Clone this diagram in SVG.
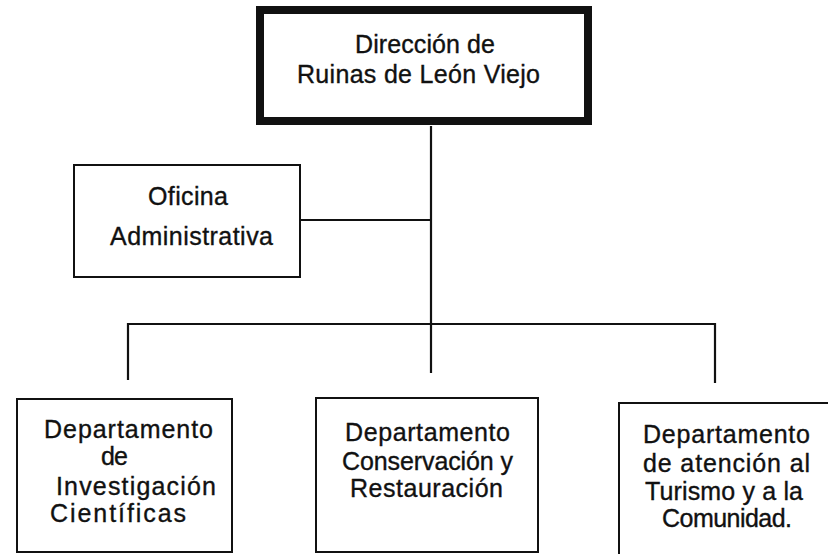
<svg xmlns="http://www.w3.org/2000/svg" width="828" height="554" viewBox="0 0 828 554">
<style>
.box{fill:#fff;stroke:#111;stroke-width:2}
.thick{fill:#fff;stroke:#111;stroke-width:8}
.ln{fill:none;stroke:#111;stroke-width:2.2}
text{font-family:"Liberation Sans",Arial,sans-serif;font-size:25px;fill:#111;stroke:#111;stroke-width:0.35}
</style>
<rect width="828" height="554" fill="#fff"/>
<g id="connectors">
<path class="ln" d="M431 126V373"/>
<path class="ln" d="M300 220H431"/>
<path class="ln" d="M128 380V324H715V383"/>
</g>
<g id="direccion">
<rect class="thick" x="260" y="10" width="328" height="111"/>
<text x="355" y="53" textLength="140">Dirección de</text>
<text x="297" y="83" textLength="243">Ruinas de León Viejo</text>
</g>
<g id="oficina">
<rect class="box" x="74" y="165" width="226" height="112"/>
<text x="148" y="205" textLength="80">Oficina</text>
<text x="110" y="245" textLength="163">Administrativa</text>
</g>
<g id="investigacion">
<rect class="box" x="17" y="399" width="215" height="153"/>
<text x="44" y="438" textLength="169">Departamento</text>
<text x="101" y="465" textLength="27">de</text>
<text x="56" y="495" textLength="160">Investigación</text>
<text x="50" y="522" textLength="136">Científicas</text>
</g>
<g id="conservacion">
<rect class="box" x="316" y="398" width="222" height="154"/>
<text x="345" y="441" textLength="165">Departamento</text>
<text x="342" y="470" textLength="171">Conservación y</text>
<text x="350" y="497" textLength="153">Restauración</text>
</g>
<g id="turismo">
<rect class="box" x="619" y="403" width="220" height="160"/>
<text x="643" y="443" textLength="167">Departamento</text>
<text x="643" y="472" textLength="167">de atención al</text>
<text x="645" y="500" textLength="158">Turismo y a la</text>
<text x="662" y="527" textLength="130">Comunidad.</text>
</g>
</svg>
